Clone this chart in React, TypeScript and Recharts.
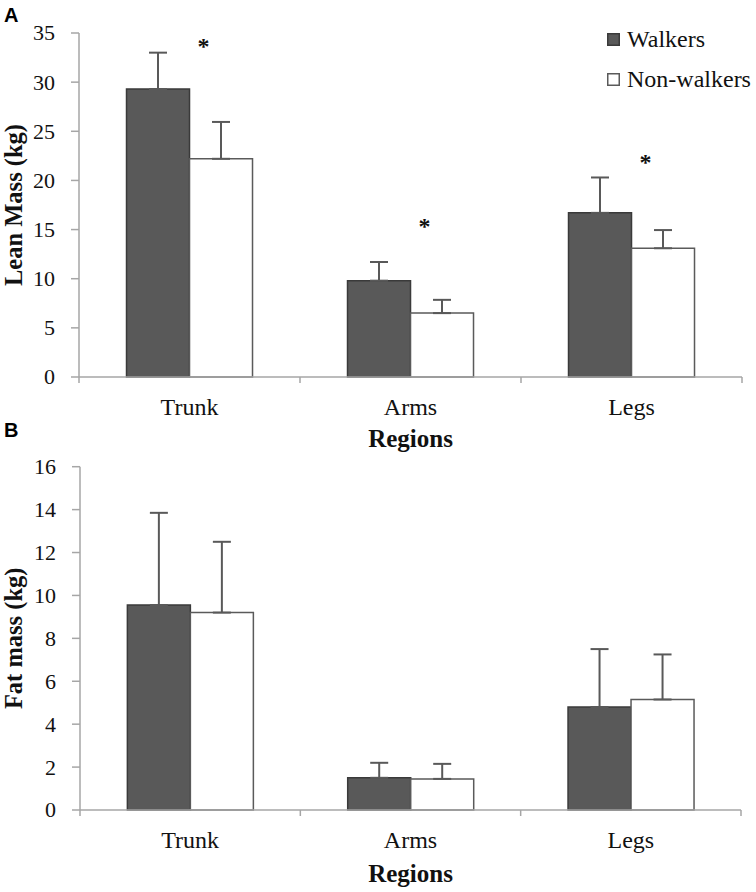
import React from 'react';
import { ComposedChart, Bar, XAxis, YAxis, ErrorBar, Scatter, Legend } from 'recharts';

// ---------- data ----------
const REGIONS = ['Trunk', 'Arms', 'Legs'];

const LEAN_WALKERS = [29.3, 9.8, 16.7];
const LEAN_WALKERS_SD = [3.7, 1.9, 3.6];
const LEAN_NON_WALKERS = [22.2, 6.5, 13.1];
const LEAN_NON_WALKERS_SD = [3.75, 1.35, 1.85];
const LEAN_SIGNIFICANCE = [34.0, 15.7, 22.2];

const FAT_WALKERS = [9.55, 1.5, 4.8];
const FAT_WALKERS_SD = [4.3, 0.7, 2.7];
const FAT_NON_WALKERS = [9.2, 1.45, 5.15];
const FAT_NON_WALKERS_SD = [3.3, 0.7, 2.1];

const LEAN_TICKS = [0, 5, 10, 15, 20, 25, 30, 35];
const FAT_TICKS = [0, 2, 4, 6, 8, 10, 12, 14, 16];

// ---------- styles ----------
const SERIF = "'Liberation Serif', 'Times New Roman', serif";
const SANS = "'Liberation Sans', Arial, sans-serif";
const AXIS = '#a6a6a6';
const TEXT = '#111111';
const DARK_FILL = '#595959';
const DARK_EDGE = '#3a3a3a';
const LIGHT_EDGE = '#5a5a5a';
const ERR = '#595959';
const X_TICK_SIZE = 6;
const X_TICK_MARGIN = 15;

const SERIES_ORDER = ['walkers', 'nonWalkers'];
const SERIES_STYLE: Record<string, { fill: string; stroke: string }> = {
  walkers: { fill: DARK_FILL, stroke: DARK_EDGE },
  nonWalkers: { fill: '#ffffff', stroke: LIGHT_EDGE },
};

const buildRows = (
  w: number[], wsd: number[], n: number[], nsd: number[], sig?: number[]
) =>
  REGIONS.map((region, i) => ({
    region,
    walkers: w[i],
    walkersErr: [0, wsd[i]],
    nonWalkers: n[i],
    nonWalkersErr: [0, nsd[i]],
    ...(sig ? { sig: sig[i] } : {}),
  }));

const leanRows = buildRows(LEAN_WALKERS, LEAN_WALKERS_SD, LEAN_NON_WALKERS, LEAN_NON_WALKERS_SD, LEAN_SIGNIFICANCE);
const fatRows = buildRows(FAT_WALKERS, FAT_WALKERS_SD, FAT_NON_WALKERS, FAT_NON_WALKERS_SD);

const CategoryTick = (props: any) => {
  const { x, y, payload, index, visibleTicksCount, width } = props;
  const half = width / visibleTicksCount / 2;
  const axisY = y - X_TICK_SIZE - X_TICK_MARGIN;
  return (
    <g>
      <line x1={x - half} x2={x - half} y1={axisY} y2={axisY + 6} stroke={AXIS} strokeWidth={1.5} />
      {index === visibleTicksCount - 1 && (
        <line x1={x + half} x2={x + half} y1={axisY} y2={axisY + 6} stroke={AXIS} strokeWidth={1.5} />
      )}
      <text x={x} y={y} dy="0.71em" textAnchor="middle" fontFamily={SERIF} fontSize={24} fill={TEXT}>
        {payload.value}
      </text>
    </g>
  );
};

const ValueTick = (props: any) => {
  const { x, y, payload } = props;
  return (
    <text x={x} y={y} dy="0.34em" textAnchor="end" fontFamily={SERIF} fontSize={22} fill={TEXT}>
      {payload.value}
    </text>
  );
};

const renderLegend = (props: any) => {
  const items = (props.payload || [])
    .filter((e: any) => SERIES_STYLE[e.dataKey])
    .sort((a: any, b: any) => SERIES_ORDER.indexOf(a.dataKey) - SERIES_ORDER.indexOf(b.dataKey));
  return (
    <div style={{ fontFamily: SERIF, fontSize: 24, color: TEXT }}>
      {items.map((e: any) => {
        const s = SERIES_STYLE[e.dataKey];
        return (
          <div key={e.dataKey} style={{ height: 40, display: 'flex', alignItems: 'center' }}>
            <svg width={13} height={13} style={{ marginRight: 7, flex: 'none' }}>
              <rect x={0.75} y={0.75} width={11.5} height={11.5} fill={s.fill} stroke={s.stroke} strokeWidth={1.5} />
            </svg>
            <span style={{ whiteSpace: 'nowrap', fontFamily: SERIF }}>{e.value}</span>
          </div>
        );
      })}
    </div>
  );
};

const Asterisk = (p: any) => (
  <text x={p.cx + 14} y={p.cy + 11} textAnchor="middle" fontFamily={SERIF} fontWeight="bold" fontSize={24} fill={TEXT}>
    *
  </text>
);

type PanelProps = {
  rows: any[];
  ticks: number[];
  yLabel: string;
  top: number;
  height: number;
  marginTop: number;
  marginRight: number;
  yAxisWidth: number;
  xAxisHeight: number;
  regionsBaseline: number;
  legend?: boolean;
  significance?: boolean;
};

const Panel = (p: PanelProps) => (
  <div style={{ position: 'absolute', left: 0, top: p.top }}>
    <ComposedChart
      width={756}
      height={p.height}
      data={p.rows}
      margin={{ top: p.marginTop, right: p.marginRight, bottom: 0, left: 0 }}
      barCategoryGap="21.5%"
      barGap={0}
    >
      <XAxis
        dataKey="region"
        type="category"
        interval={0}
        height={p.xAxisHeight}
        axisLine={{ stroke: AXIS, strokeWidth: 1.5 }}
        tickLine={false}
        tickSize={X_TICK_SIZE}
        tickMargin={X_TICK_MARGIN}
        tick={<CategoryTick />}
        label={{
          content: (lp: any) => {
            const vb = lp.viewBox;
            return (
              <text
                x={vb.x + vb.width / 2}
                y={vb.y + p.regionsBaseline}
                textAnchor="middle"
                fontFamily={SERIF}
                fontWeight="bold"
                fontSize={25}
                fill={TEXT}
              >
                Regions
              </text>
            );
          },
        }}
      />
      <YAxis
        type="number"
        width={p.yAxisWidth}
        domain={[p.ticks[0], p.ticks[p.ticks.length - 1]]}
        ticks={p.ticks}
        interval={0}
        axisLine={{ stroke: AXIS, strokeWidth: 1.5 }}
        tickLine={{ stroke: AXIS, strokeWidth: 1.5 }}
        tickSize={8}
        tickMargin={16}
        tick={<ValueTick />}
        label={{
          content: (lp: any) => {
            const vb = lp.viewBox;
            const cy = vb.y + vb.height / 2;
            return (
              <text
                x={22}
                y={cy}
                transform={`rotate(-90, 22, ${cy})`}
                textAnchor="middle"
                fontFamily={SERIF}
                fontWeight="bold"
                fontSize={24.5}
                fill={TEXT}
              >
                {p.yLabel}
              </text>
            );
          },
        }}
      />
      <Bar dataKey="walkers" name="Walkers" fill={DARK_FILL} stroke={DARK_EDGE} strokeWidth={1.5} isAnimationActive={false}>
        <ErrorBar dataKey="walkersErr" direction="y" width={9} stroke={ERR} strokeWidth={2} />
      </Bar>
      <Bar dataKey="nonWalkers" name="Non-walkers" fill="#ffffff" stroke={LIGHT_EDGE} strokeWidth={1.5} isAnimationActive={false}>
        <ErrorBar dataKey="nonWalkersErr" direction="y" width={9} stroke={ERR} strokeWidth={2} />
      </Bar>
      {p.significance && (
        <Scatter dataKey="sig" legendType="none" isAnimationActive={false} shape={<Asterisk />} />
      )}
      {p.legend && (
        <Legend
          layout="vertical"
          align="center"
          verticalAlign="middle"
          content={renderLegend}
          wrapperStyle={{ position: 'absolute', left: 607, top: 19.5, width: 150 }}
        />
      )}
    </ComposedChart>
  </div>
);

const PanelLetter = ({ letter, top }: { letter: string; top: number }) => (
  <div
    style={{
      position: 'absolute',
      left: 4,
      top,
      fontFamily: SANS,
      fontWeight: 'bold',
      fontSize: 20,
      lineHeight: '20px',
      color: '#000',
    }}
  >
    {letter}
  </div>
);

export default function App() {
  return (
    <div style={{ position: 'absolute', left: 0, top: 0, width: 756, height: 892, background: '#ffffff', overflow: 'hidden' }}>
      <Panel
        rows={leanRows}
        ticks={LEAN_TICKS}
        yLabel="Lean Mass (kg)"
        top={0}
        height={462}
        marginTop={33}
        marginRight={14}
        yAxisWidth={79}
        xAxisHeight={85}
        regionsBaseline={70}
        legend
        significance
      />
      <Panel
        rows={fatRows}
        ticks={FAT_TICKS}
        yLabel="Fat mass (kg)"
        top={440}
        height={452}
        marginTop={26.7}
        marginRight={15}
        yAxisWidth={80}
        xAxisHeight={82}
        regionsBaseline={72}
      />
      <PanelLetter letter="A" top={5} />
      <PanelLetter letter="B" top={420} />
    </div>
  );
}
